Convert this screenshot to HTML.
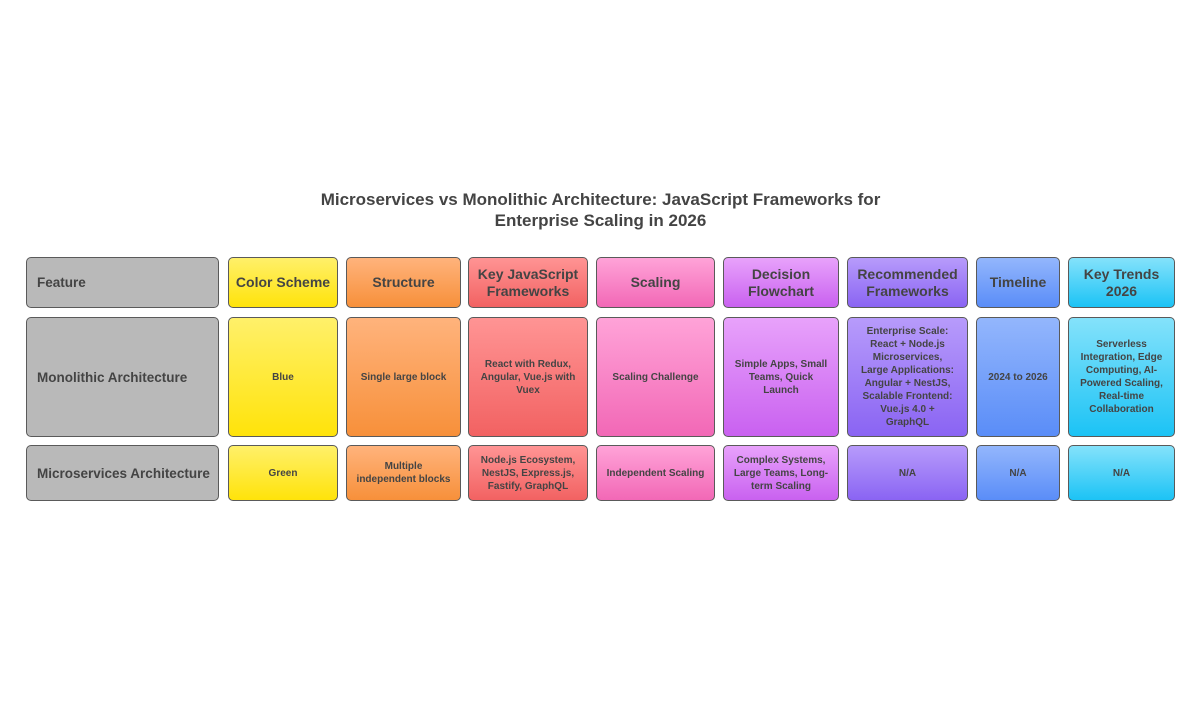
<!DOCTYPE html>
<html><head><meta charset="utf-8"><style>
body{margin:0;width:1201px;height:702px;background:#fff;font-family:"Liberation Sans",sans-serif;position:relative;overflow:hidden}
.t{position:absolute;left:0;width:1201px;top:189px;text-align:center;font-weight:bold;font-size:17px;line-height:21px;color:#444}
.c{position:absolute;box-sizing:border-box;border:1.5px solid #5a5a5a;border-radius:5px;display:flex;align-items:center;justify-content:center;text-align:center;color:#444;font-weight:bold;font-size:10px;line-height:13px;padding:0;white-space:nowrap}
.h{font-size:14px;line-height:17px}
.f{justify-content:flex-start;padding-left:10px;background:#b9b9b9;font-size:13.5px}
.y{background:linear-gradient(#fff06a,#ffe30a)}
.o{background:linear-gradient(#ffb37c,#f7903a)}
.r{background:linear-gradient(#ff9494,#f26262)}
.p{background:linear-gradient(#ffa3d8,#f268b6)}
.m{background:linear-gradient(#e8a2fb,#c961f0)}
.v{background:linear-gradient(#b79bfb,#8a64f3)}
.b{background:linear-gradient(#93b6fc,#5a8df8)}
.k{background:linear-gradient(#84e2fb,#1cc3f5)}
</style></head><body>
<div class="t">Microservices vs Monolithic Architecture: JavaScript Frameworks for<br>Enterprise Scaling in 2026</div>

<div class="c f" style="left:26px;top:257px;width:193px;height:51px">Feature</div>
<div class="c h y" style="left:228px;top:257px;width:110px;height:51px">Color Scheme</div>
<div class="c h o" style="left:346px;top:257px;width:115px;height:51px">Structure</div>
<div class="c h r" style="left:468px;top:257px;width:120px;height:51px">Key JavaScript<br>Frameworks</div>
<div class="c h p" style="left:596px;top:257px;width:119px;height:51px">Scaling</div>
<div class="c h m" style="left:723px;top:257px;width:116px;height:51px">Decision<br>Flowchart</div>
<div class="c h v" style="left:847px;top:257px;width:121px;height:51px">Recommended<br>Frameworks</div>
<div class="c h b" style="left:976px;top:257px;width:84px;height:51px">Timeline</div>
<div class="c h k" style="left:1068px;top:257px;width:107px;height:51px">Key Trends<br>2026</div>

<div class="c f" style="left:26px;top:317px;width:193px;height:120px">Monolithic Architecture</div>
<div class="c y" style="left:228px;top:317px;width:110px;height:120px">Blue</div>
<div class="c o" style="left:346px;top:317px;width:115px;height:120px">Single large block</div>
<div class="c r" style="left:468px;top:317px;width:120px;height:120px">React with Redux,<br>Angular, Vue.js with<br>Vuex</div>
<div class="c p" style="left:596px;top:317px;width:119px;height:120px">Scaling Challenge</div>
<div class="c m" style="left:723px;top:317px;width:116px;height:120px">Simple Apps, Small<br>Teams, Quick<br>Launch</div>
<div class="c v" style="left:847px;top:317px;width:121px;height:120px">Enterprise Scale:<br>React + Node.js<br>Microservices,<br>Large Applications:<br>Angular + NestJS,<br>Scalable Frontend:<br>Vue.js 4.0 +<br>GraphQL</div>
<div class="c b" style="left:976px;top:317px;width:84px;height:120px">2024 to 2026</div>
<div class="c k" style="left:1068px;top:317px;width:107px;height:120px">Serverless<br>Integration, Edge<br>Computing, AI-<br>Powered Scaling,<br>Real-time<br>Collaboration</div>

<div class="c f" style="left:26px;top:445px;width:193px;height:56px">Microservices Architecture</div>
<div class="c y" style="left:228px;top:445px;width:110px;height:56px">Green</div>
<div class="c o" style="left:346px;top:445px;width:115px;height:56px">Multiple<br>independent blocks</div>
<div class="c r" style="left:468px;top:445px;width:120px;height:56px">Node.js Ecosystem,<br>NestJS, Express.js,<br>Fastify, GraphQL</div>
<div class="c p" style="left:596px;top:445px;width:119px;height:56px">Independent Scaling</div>
<div class="c m" style="left:723px;top:445px;width:116px;height:56px">Complex Systems,<br>Large Teams, Long-<br>term Scaling</div>
<div class="c v" style="left:847px;top:445px;width:121px;height:56px">N/A</div>
<div class="c b" style="left:976px;top:445px;width:84px;height:56px">N/A</div>
<div class="c k" style="left:1068px;top:445px;width:107px;height:56px">N/A</div>
</body></html>
